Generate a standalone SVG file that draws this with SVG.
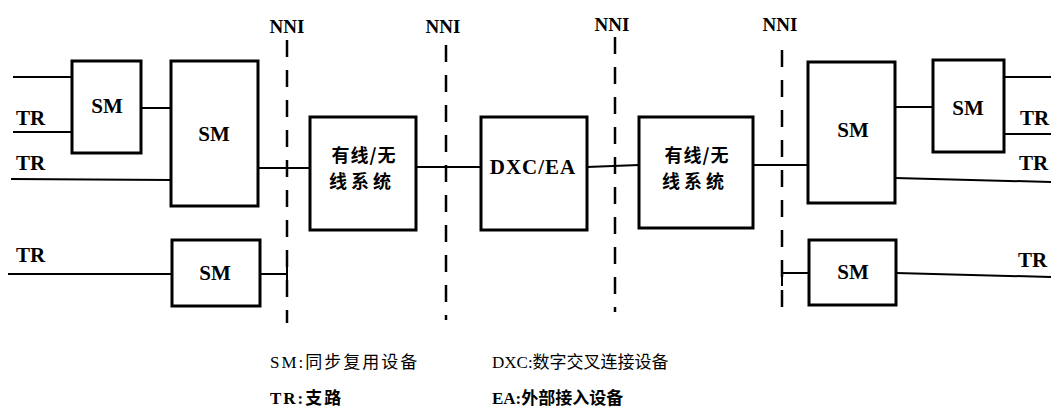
<svg xmlns="http://www.w3.org/2000/svg" width="1051" height="417" viewBox="0 0 1051 417">
<style>
.box{fill:#fff;stroke:#000;stroke-width:3}
.ln{stroke:#000;stroke-width:2;fill:none}
.nni{stroke:#000;stroke-width:2.5;stroke-dasharray:17 13;fill:none}
.t{font-family:"Liberation Serif","Noto Sans CJK SC",serif;font-weight:bold;fill:#000}
.sm{font-size:21px;text-anchor:middle}
.tr{font-size:21px}
.nl{font-size:19px;text-anchor:middle}
.cj{font-family:"Noto Sans CJK SC",sans-serif;font-weight:bold;font-size:18px;text-anchor:middle;fill:#000}
.lg{font-family:"Liberation Serif","Noto Sans CJK SC",serif;font-size:17px;fill:#000}
</style>
<rect width="1051" height="417" fill="#fff"/>
<g id="connectors">
<line class="ln" x1="13" y1="77" x2="72" y2="77"/>
<line class="ln" x1="13" y1="132" x2="72" y2="132"/>
<line class="ln" x1="141" y1="108" x2="171" y2="108"/>
<line class="ln" x1="11" y1="179" x2="171" y2="180"/>
<line class="ln" x1="258" y1="168" x2="310" y2="168"/>
<line class="ln" x1="8" y1="274" x2="172" y2="274"/>
<line class="ln" x1="260" y1="274" x2="287" y2="274"/>
<line class="ln" x1="287" y1="266" x2="287" y2="290"/>
<line class="ln" x1="416" y1="167" x2="481" y2="167"/>
<line class="ln" x1="587" y1="167" x2="639" y2="165"/>
<line class="ln" x1="753" y1="165" x2="808" y2="165"/>
<line class="ln" x1="895" y1="107" x2="933" y2="107"/>
<line class="ln" x1="1004" y1="77" x2="1051" y2="77"/>
<line class="ln" x1="1004" y1="134" x2="1051" y2="134"/>
<line class="ln" x1="895" y1="178" x2="1051" y2="182"/>
<line class="ln" x1="782" y1="273" x2="809" y2="273"/>
<line class="ln" x1="782" y1="264" x2="782" y2="286"/>
<line class="ln" x1="896" y1="273" x2="1051" y2="277"/>
</g>
<g id="nni-lines">
<line class="nni" x1="287" y1="40" x2="287" y2="323"/>
<line class="nni" x1="446" y1="45" x2="446" y2="320"/>
<line class="nni" x1="615" y1="37" x2="615" y2="312"/>
<line class="nni" x1="782" y1="50" x2="782" y2="318"/>
<text class="t nl" x="287" y="33">NNI</text>
<text class="t nl" x="443" y="33">NNI</text>
<text class="t nl" x="612" y="31">NNI</text>
<text class="t nl" x="780" y="31">NNI</text>
</g>
<g id="sm1"><rect class="box" x="72" y="61" width="69" height="92"/><text class="t sm" x="107" y="113">SM</text></g>
<g id="sm2"><rect class="box" x="171" y="61" width="87" height="145"/><text class="t sm" x="214" y="141">SM</text></g>
<g id="sm3"><rect class="box" x="172" y="240" width="88" height="66"/><text class="t sm" x="215" y="280">SM</text></g>
<g id="wl1"><rect class="box" x="310" y="117" width="106" height="113"/><text class="cj" x="364" y="162" letter-spacing="1">有线/无</text><text class="cj" x="362" y="188" letter-spacing="4">线系统</text></g>
<g id="dxc"><rect class="box" x="481" y="117" width="106" height="113"/><text class="t" x="533" y="174" font-size="21" text-anchor="middle" letter-spacing="1">DXC/EA</text></g>
<g id="wl2"><rect class="box" x="639" y="117" width="114" height="111"/><text class="cj" x="697" y="162" letter-spacing="1">有线/无</text><text class="cj" x="695" y="188" letter-spacing="4">线系统</text></g>
<g id="sm4"><rect class="box" x="808" y="62" width="87" height="141"/><text class="t sm" x="853" y="137">SM</text></g>
<g id="sm5"><rect class="box" x="933" y="60" width="71" height="92"/><text class="t sm" x="968" y="115">SM</text></g>
<g id="sm6"><rect class="box" x="809" y="240" width="87" height="65"/><text class="t sm" x="853" y="279">SM</text></g>
<g id="tr-labels">
<text class="t tr" x="16" y="125">TR</text>
<text class="t tr" x="16" y="170">TR</text>
<text class="t tr" x="16" y="262">TR</text>
<text class="t tr" x="1020" y="125">TR</text>
<text class="t tr" x="1019" y="170">TR</text>
<text class="t tr" x="1018" y="267">TR</text>
</g>
<g id="legend">
<text class="lg" x="270" y="368" letter-spacing="2">SM:同步复用设备</text>
<text class="lg" x="492" y="368">DXC:数字交叉连接设备</text>
<text class="lg" x="270" y="404" font-weight="bold" letter-spacing="2">TR:支路</text>
<text class="lg" x="492" y="404" font-weight="bold">EA:外部接入设备</text>
</g>
</svg>
